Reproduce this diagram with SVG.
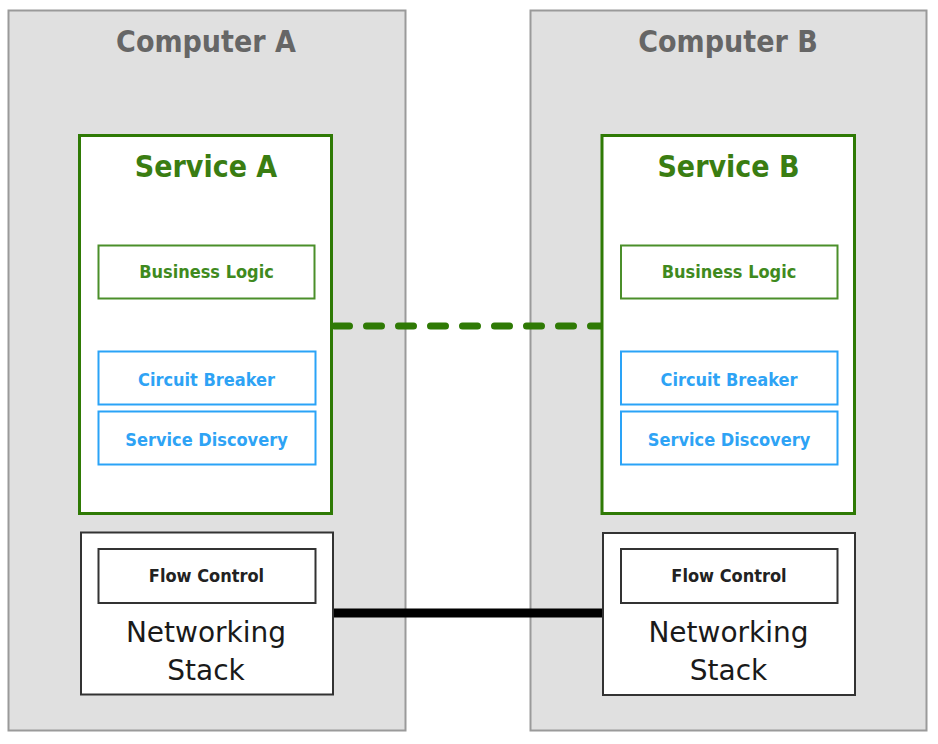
<svg xmlns="http://www.w3.org/2000/svg" width="938" height="744" viewBox="0 0 938 744">
<style>
.computer{fill:#e0e0e0;stroke:#9a9a9a;stroke-width:2}
.service{fill:#ffffff;stroke:#2f7a05;stroke-width:3}
.net{fill:#ffffff;stroke:#333333;stroke-width:2}
.biz{fill:#ffffff;stroke:#4b8f2a;stroke-width:2}
.blue{fill:#ffffff;stroke:#2aa3f7;stroke-width:2}
.flow{fill:#ffffff;stroke:#333333;stroke-width:2}
text{font-family:"DejaVu Sans Condensed","DejaVu Sans",sans-serif;font-stretch:condensed;text-anchor:middle}
.t-comp{font-size:30px;font-weight:bold;fill:#666666}
.t-serv{font-size:30px;font-weight:bold;fill:#3a7d12}
.t-biz{font-size:18px;font-weight:bold;fill:#3f8a1e}
.t-blue{font-size:18px;font-weight:bold;fill:#2ea3f5}
.t-flow{font-size:18px;font-weight:bold;fill:#222222}
.t-net{font-family:"DejaVu Sans",sans-serif;font-stretch:normal;font-size:28px;fill:#1a1a1a}
</style>
<g id="computer-a">
<rect class="computer" x="8.5" y="10.5" width="397" height="720"/>
<text class="t-comp" x="206" y="52">Computer A</text>
</g>
<g id="computer-b">
<rect class="computer" x="530.5" y="10.5" width="396" height="720"/>
<text class="t-comp" x="728" y="52">Computer B</text>
</g>
<g id="connectors">
<line x1="334.5" y1="326" x2="602" y2="326" stroke="#2f7a05" stroke-width="7" stroke-linecap="round" stroke-dasharray="15 17"/>
<line x1="333" y1="613" x2="603" y2="613" stroke="#000000" stroke-width="9"/>
</g>
<g id="service-a">
<rect class="service" x="79.5" y="135.5" width="252" height="378"/>
<text class="t-serv" x="206" y="177">Service A</text>
</g>
<g id="business-logic-a">
<rect class="biz" x="98.5" y="245.5" width="216" height="53"/>
<text class="t-biz" x="206.5" y="278">Business Logic</text>
</g>
<g id="circuit-breaker-a">
<rect class="blue" x="98.5" y="351.5" width="217" height="53"/>
<text class="t-blue" x="206.5" y="386">Circuit Breaker</text>
</g>
<g id="service-discovery-a">
<rect class="blue" x="98.5" y="411.5" width="217" height="53"/>
<text class="t-blue" x="206.5" y="446">Service Discovery</text>
</g>
<g id="networking-a">
<rect class="net" x="81" y="532.5" width="252" height="162"/>
<text class="t-net" x="206" y="642">Networking</text>
<text class="t-net" x="206" y="680">Stack</text>
</g>
<g id="flow-control-a">
<rect class="flow" x="98.5" y="549" width="217" height="54"/>
<text class="t-flow" x="206.5" y="582">Flow Control</text>
</g>
<g id="service-b">
<rect class="service" x="602" y="135.5" width="252.5" height="378"/>
<text class="t-serv" x="728.5" y="177">Service B</text>
</g>
<g id="business-logic-b">
<rect class="biz" x="621" y="245.5" width="216.5" height="53"/>
<text class="t-biz" x="729" y="278">Business Logic</text>
</g>
<g id="circuit-breaker-b">
<rect class="blue" x="621" y="351.5" width="216.5" height="53"/>
<text class="t-blue" x="729" y="386">Circuit Breaker</text>
</g>
<g id="service-discovery-b">
<rect class="blue" x="621" y="411.5" width="216.5" height="53"/>
<text class="t-blue" x="729" y="446">Service Discovery</text>
</g>
<g id="networking-b">
<rect class="net" x="603" y="533" width="252" height="162"/>
<text class="t-net" x="728.5" y="642">Networking</text>
<text class="t-net" x="728.5" y="680">Stack</text>
</g>
<g id="flow-control-b">
<rect class="flow" x="621" y="549" width="216.5" height="54"/>
<text class="t-flow" x="729" y="582">Flow Control</text>
</g>
</svg>
